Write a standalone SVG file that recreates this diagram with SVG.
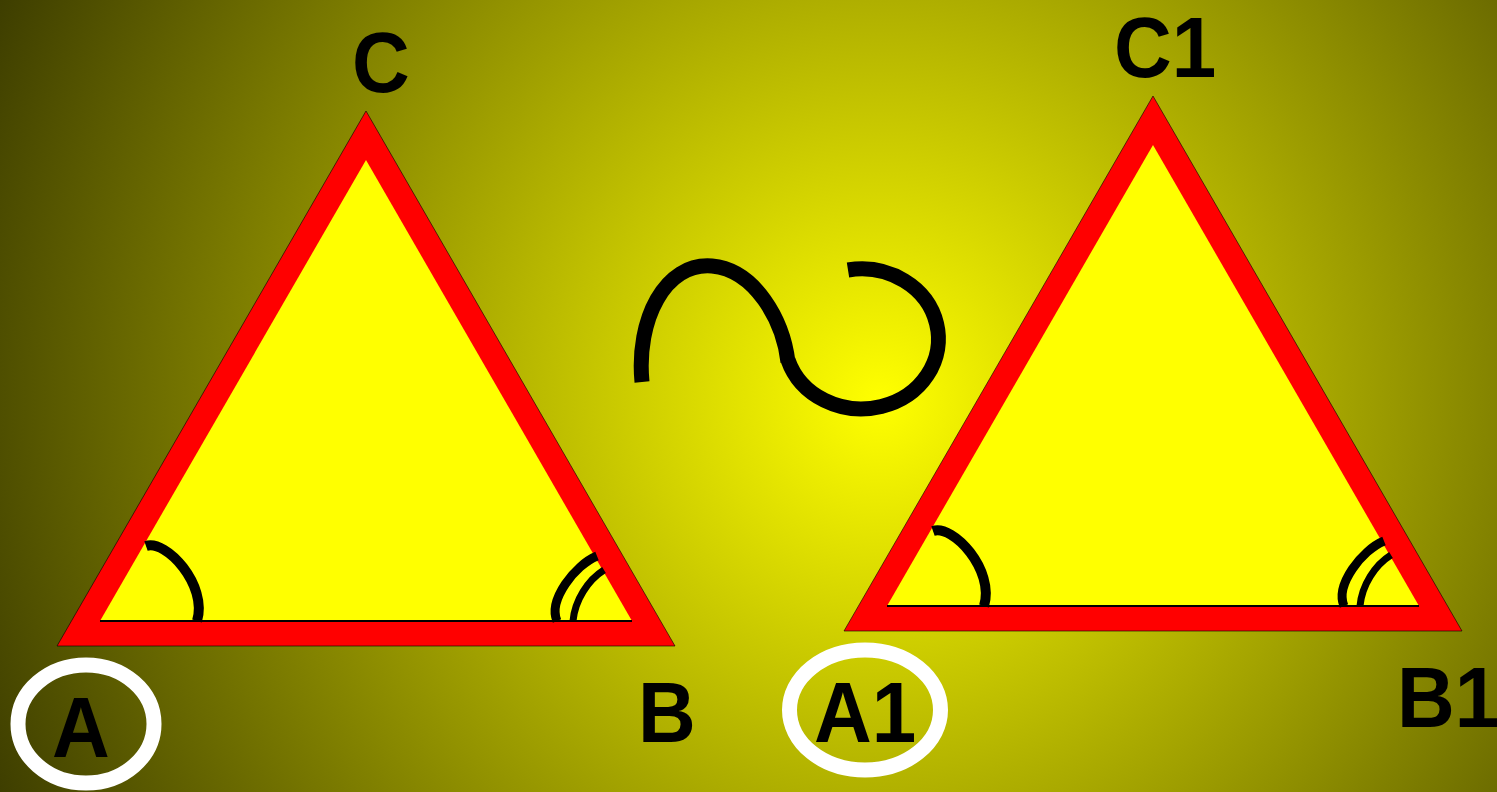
<svg xmlns="http://www.w3.org/2000/svg" xmlns:xlink="http://www.w3.org/1999/xlink" width="1497" height="792" viewBox="0 0 1497 792">
  <defs>
    <radialGradient id="bg" gradientUnits="userSpaceOnUse" cx="880" cy="400" r="1000">
      <stop offset="0" stop-color="#ffff00"/>
      <stop offset="1" stop-color="#373700"/>
    </radialGradient>
    <style>
      .lbl { font-family: "Liberation Sans", Arial, sans-serif; font-weight: bold; font-size: 86px; fill: #000; }
      .ring { fill: none; stroke: #ffffff; stroke-width: 15; }
      .arc { fill: none; stroke: #000; stroke-linecap: butt; }
      .tilde { fill: none; stroke: #000; stroke-width: 15; stroke-linecap: butt; }
    </style>
    <g id="triShape">
      <polygon points="366,111 57,646 675,646" fill="#ff0000" stroke="#000" stroke-width="1" stroke-opacity="0.6"/>
      <polygon points="366,160 100,621 632,621" fill="#ffff00"/>
      <line x1="100" y1="621" x2="632" y2="621" stroke="#000" stroke-width="2"/>
      <path class="arc" stroke-width="10" d="M 146 546 C 166 539, 208 585, 197 621"/>
      <path class="arc" stroke-width="9" d="M 597 556 C 575 565, 548 600, 557 621"/>
      <path class="arc" stroke-width="7" d="M 604 570 C 588 580, 575 600, 573 621"/>
    </g>
  </defs>

  <rect x="0" y="0" width="1497" height="792" fill="url(#bg)"/>

  <g id="triangle-ABC">
    <use href="#triShape" xlink:href="#triShape"/>
    <text class="lbl" transform="translate(352,92) scale(0.93,1)">C</text>
    <text class="lbl" transform="translate(638,742) scale(0.93,1)">B</text>
    <ellipse class="ring" cx="86" cy="724" rx="68" ry="59"/>
    <text class="lbl" transform="translate(52,757) scale(0.93,1)">A</text>
  </g>

  <g id="triangle-A1B1C1">
    <use href="#triShape" xlink:href="#triShape" transform="translate(787,-15)"/>
    <text class="lbl" transform="translate(1114,77) scale(0.93,1)">C1</text>
    <text class="lbl" transform="translate(1397,727) scale(0.93,1)">B1</text>
    <ellipse class="ring" cx="865" cy="710" rx="75.5" ry="60"/>
    <text class="lbl" transform="translate(814,742) scale(0.93,1)">A1</text>
  </g>

  <g id="similar-sign">
    <path class="tilde" d="M 642 382 C 636 320, 665 262, 712 266 C 755 270, 783 320, 788 362"/>
    <path class="tilde" d="M 788 360 A 77 70 0 1 0 848 270"/>
  </g>
</svg>
